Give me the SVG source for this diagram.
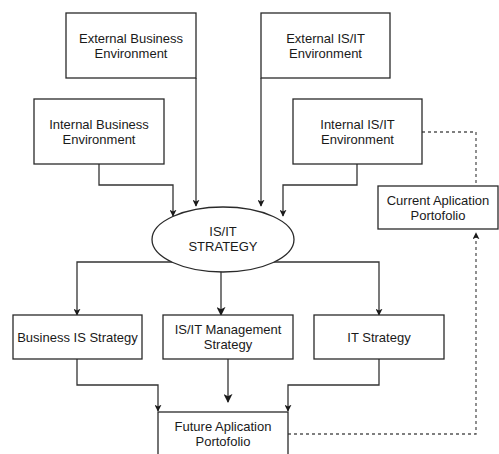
<svg xmlns="http://www.w3.org/2000/svg" width="499" height="454" viewBox="0 0 499 454">
  <defs>
    <marker id="arrow" viewBox="0 0 10 10" refX="9" refY="5" markerWidth="7" markerHeight="7" markerUnits="userSpaceOnUse" orient="auto">
      <path d="M0,0 L10,5 L0,10 L2.5,5 Z" fill="#1a1a1a"/>
    </marker>
    <marker id="arrowBig" viewBox="0 0 10 10" refX="9" refY="5" markerWidth="9" markerHeight="9" markerUnits="userSpaceOnUse" orient="auto">
      <path d="M0,0 L10,5 L0,10 L2.5,5 Z" fill="#1a1a1a"/>
    </marker>
  </defs>
  <style>
    .box { fill: #ffffff; stroke: #2a2a2a; stroke-width: 1.3; }
    .label { font-family: "Liberation Sans", Arial, sans-serif; font-size: 13px; fill: #1a1a1a; text-anchor: middle; }
    .edge { fill: none; stroke: #333333; stroke-width: 1.3; }
    .dashed { fill: none; stroke: #555555; stroke-width: 1.3; stroke-dasharray: 3 3; }
  </style>
  <rect width="499" height="454" fill="#ffffff"/>

  <g id="connectors">
    <!-- inputs into the strategy ellipse -->
    <path class="edge" d="M196,78 V206" marker-end="url(#arrow)"/>
    <path class="edge" d="M99,164 V185 H173 V216" marker-end="url(#arrow)"/>
    <path class="edge" d="M261,78 V206" marker-end="url(#arrow)"/>
    <path class="edge" d="M357,164 V185 H283 V216" marker-end="url(#arrow)"/>
    <!-- strategy ellipse to the three strategies -->
    <path class="edge" d="M190,262 H77 V315" marker-end="url(#arrow)"/>
    <path class="edge" d="M256,262 H379 V315" marker-end="url(#arrow)"/>
    <path class="edge" d="M221,272 V315" marker-end="url(#arrowBig)"/>
    <!-- strategies to future portfolio -->
    <path class="edge" d="M77,359 V385 H158 V411" marker-end="url(#arrow)"/>
    <path class="edge" d="M228,359 V402" marker-end="url(#arrowBig)"/>
    <path class="edge" d="M379,359 V385 H288 V411" marker-end="url(#arrow)"/>
    <!-- dashed links with current portfolio -->
    <path class="dashed" d="M422,132 H476 V186"/>
    <path class="dashed" d="M288,434 H476 V233" marker-end="url(#arrow)"/>
  </g>

  <g id="external-business">
    <rect class="box" x="66" y="13" width="130" height="65"/>
    <text class="label" x="131" y="43">External Business</text>
    <text class="label" x="131" y="58">Environment</text>
  </g>

  <g id="external-isit">
    <rect class="box" x="261" y="13" width="129" height="65"/>
    <text class="label" x="325.5" y="43">External IS/IT</text>
    <text class="label" x="325.5" y="58">Environment</text>
  </g>

  <g id="internal-business">
    <rect class="box" x="34" y="99" width="130" height="65"/>
    <text class="label" x="99" y="129">Internal Business</text>
    <text class="label" x="99" y="144">Environment</text>
  </g>

  <g id="internal-isit">
    <rect class="box" x="293" y="99" width="129" height="65"/>
    <text class="label" x="357.5" y="129">Internal IS/IT</text>
    <text class="label" x="357.5" y="144">Environment</text>
  </g>

  <g id="current-portfolio">
    <rect class="box" x="378" y="186" width="120" height="43"/>
    <text class="label" x="438" y="205">Current Aplication</text>
    <text class="label" x="438" y="220">Portofolio</text>
  </g>

  <g id="isit-strategy">
    <ellipse class="box" cx="223" cy="239.5" rx="71" ry="32.5"/>
    <text class="label" x="223" y="236">IS/IT</text>
    <text class="label" x="223" y="251">STRATEGY</text>
  </g>

  <g id="business-is-strategy">
    <rect class="box" x="13" y="315" width="129" height="44"/>
    <text class="label" x="77.5" y="341.5">Business IS Strategy</text>
  </g>

  <g id="isit-management-strategy">
    <rect class="box" x="163" y="315" width="130" height="44"/>
    <text class="label" x="228" y="334">IS/IT Management</text>
    <text class="label" x="228" y="349">Strategy</text>
  </g>

  <g id="it-strategy">
    <rect class="box" x="314" y="315" width="130" height="44"/>
    <text class="label" x="379" y="341.5">IT Strategy</text>
  </g>

  <g id="future-portfolio">
    <rect class="box" x="158" y="412" width="130" height="60"/>
    <text class="label" x="223" y="431">Future Aplication</text>
    <text class="label" x="223" y="446">Portofolio</text>
  </g>
</svg>
